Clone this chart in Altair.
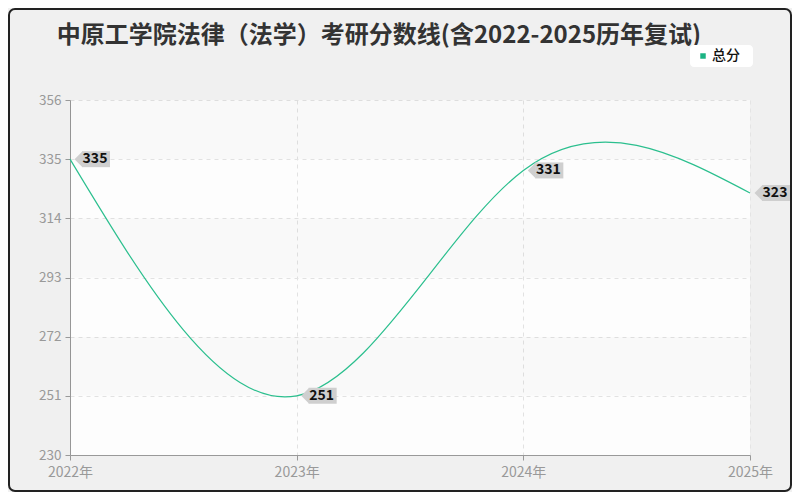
import altair as alt
import pandas as pd

# ---- data ----
years = [2022, 2023, 2024, 2025]
scores = [335, 251, 331, 323]
y_ticks = [230, 251, 272, 293, 314, 335, 356]
series_name = ["总分"]
title_text = ["中原工学院法律（法学）考研分数线(含2022-2025历年复试)"]

LINE_COLOR = "#2bbf8e"
TAG_COLOR = "#cfcfcf"
FONT = "Noto Sans CJK SC"

df = pd.DataFrame({"year": years, "score": scores})
bands = pd.DataFrame({
    "lo": y_ticks[:-1],
    "hi": y_ticks[1:],
    "shade": [i % 2 for i in range(len(y_ticks) - 1)],
})

xs = alt.Scale(domain=[years[0], years[-1]], nice=False, zero=False)
ys = alt.Scale(domain=[y_ticks[0], y_ticks[-1]], nice=False, zero=False)

x_axis = alt.Axis(values=years, labelExpr="datum.value + '年'", title=None,
                  grid=True, tickSize=5, labelPadding=5, labelFlush=False)
y_axis = alt.Axis(values=y_ticks, title=None, grid=True, tickSize=5, labelPadding=4,
                  labelFontSize=13.5)

band_layer = alt.Chart(bands).mark_rect(color="#000").encode(
    x=alt.value(0), x2=alt.value(680),
    y=alt.Y("lo:Q", scale=ys, axis=y_axis),
    y2="hi:Q",
    opacity=alt.condition("datum.shade == 1", alt.value(0.022), alt.value(0.008)),
)

line = alt.Chart(df).mark_line(interpolate="natural", color=LINE_COLOR, strokeWidth=1.2).encode(
    x=alt.X("year:Q", scale=xs, axis=x_axis),
    y=alt.Y("score:Q", scale=ys, axis=y_axis),
)

tag_body = alt.Chart(df).mark_rect(color=TAG_COLOR, xOffset=12, x2Offset=40,
                                   yOffset=-8, y2Offset=8).encode(
    x=alt.X("year:Q", scale=xs), x2="year:Q",
    y=alt.Y("score:Q", scale=ys), y2="score:Q",
)
tag_arrow = alt.Chart(df).mark_point(shape="M-1,0L0,-1L0,1Z", filled=True, opacity=1,
                                     color=TAG_COLOR, size=256, xOffset=12.5).encode(
    x=alt.X("year:Q", scale=xs), y=alt.Y("score:Q", scale=ys),
)
tag_text = alt.Chart(df).mark_text(xOffset=25, font=FONT, fontSize=14, fontWeight="bold",
                                   color="#111", baseline="middle", align="center").encode(
    x=alt.X("year:Q", scale=xs), y=alt.Y("score:Q", scale=ys), text="score:Q",
)

title = alt.Chart(pd.DataFrame({"t": title_text})).mark_text(
    font=FONT, fontSize=24, fontWeight="bold", color="#333", align="center", baseline="middle"
).encode(x=alt.value(309), y=alt.value(-64), text="t:N")

leg_df = pd.DataFrame({"name": series_name})
leg_box = alt.Chart(leg_df).mark_rect(fill="white", cornerRadius=4).encode(
    x=alt.value(620), x2=alt.value(683), y=alt.value(-55), y2=alt.value(-33))
leg_sym = alt.Chart(leg_df).mark_point(shape="square", filled=True, opacity=1, size=30,
                                       color="#1bb383").encode(
    x=alt.value(633), y=alt.value(-44))
leg_txt = alt.Chart(leg_df).mark_text(font=FONT, fontSize=14, fontWeight=500, color="#111",
                                      align="left", baseline="middle").encode(
    x=alt.value(642), y=alt.value(-44), text="name:N")

border = alt.Chart(leg_df).mark_rect(fill=None, stroke="#222", strokeWidth=2, cornerRadius=6).encode(
    x=alt.value(-61), x2=alt.value(721), y=alt.value(-91), y2=alt.value(391))

chart = alt.layer(
    band_layer, line, tag_arrow, tag_body, tag_text, title, leg_box, leg_sym, leg_txt, border
).properties(
    width=680, height=355,
    autosize=alt.AutoSizeParams(type="none"),
    padding={"left": 62, "right": 42, "top": 92, "bottom": 37},
    background="#f0f0f0",
).configure_view(
    stroke=None, fill="white"
).configure_axis(
    domainColor="#999", tickColor="#999", labelColor="#999", labelFont=FONT,
    labelFontSize=14, gridColor="#e4e4e4", gridDash=[4, 4], gridWidth=1,
)

chart.save("out.html", embed_options={"renderer": "svg", "actions": False})
